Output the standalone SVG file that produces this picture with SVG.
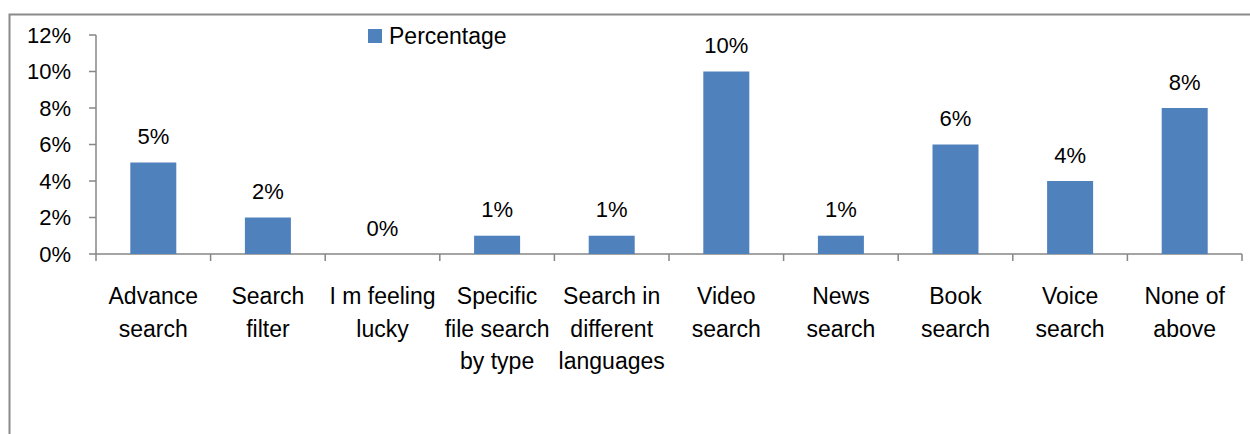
<svg xmlns="http://www.w3.org/2000/svg" width="1250" height="434" viewBox="0 0 1250 434">
<style>
text{font-family:"Liberation Sans",Arial,sans-serif;font-size:23px;fill:#000}
.n{font-size:22px}
.c{text-anchor:middle}
.r{text-anchor:end}
.bar{fill:#4F81BD}
.ax{stroke:#868686;stroke-width:1.5;fill:none}
</style>
<rect width="1250" height="434" fill="#fff"/>
<path d="M9.5,434 V14.5 H1250" fill="none" stroke="#8a8a8a" stroke-width="2"/>
<g id="axes">
<path class="ax" d="M96,35 V254 H1242"/>
<path class="ax" d="M89,35 H96 M89,71.5 H96 M89,108 H96 M89,144.5 H96 M89,181 H96 M89,217.5 H96 M89,254 H96"/>
<path class="ax" d="M96,254 V261 M210.6,254 V261 M325.2,254 V261 M439.8,254 V261 M554.4,254 V261 M669,254 V261 M783.6,254 V261 M898.2,254 V261 M1012.8,254 V261 M1127.4,254 V261 M1242,254 V261"/>
<text class="r n" x="71" y="43">12%</text>
<text class="r n" x="71" y="79">10%</text>
<text class="r n" x="71" y="116">8%</text>
<text class="r n" x="71" y="152">6%</text>
<text class="r n" x="71" y="189">4%</text>
<text class="r n" x="71" y="225">2%</text>
<text class="r n" x="71" y="262">0%</text>
</g>
<g id="legend">
<rect class="bar" x="368" y="29" width="14" height="14"/>
<text x="389" y="44">Percentage</text>
</g>
<g id="bars">
<rect class="bar" x="130.3" y="162.5" width="46" height="91.5"/>
<rect class="bar" x="244.9" y="217.5" width="46" height="36.5"/>
<rect class="bar" x="474.1" y="235.7" width="46" height="18.3"/>
<rect class="bar" x="588.7" y="235.7" width="46" height="18.3"/>
<rect class="bar" x="703.3" y="71.5" width="46" height="182.5"/>
<rect class="bar" x="817.9" y="235.7" width="46" height="18.3"/>
<rect class="bar" x="932.5" y="144.5" width="46" height="109.5"/>
<rect class="bar" x="1047.1" y="181" width="46" height="73"/>
<rect class="bar" x="1161.7" y="108" width="46" height="146"/>
</g>
<g id="values">
<text class="c n" x="153.3" y="144">5%</text>
<text class="c n" x="267.9" y="199">2%</text>
<text class="c n" x="382.5" y="236">0%</text>
<text class="c n" x="497.1" y="217">1%</text>
<text class="c n" x="611.7" y="217">1%</text>
<text class="c n" x="726.3" y="53">10%</text>
<text class="c n" x="840.9" y="217">1%</text>
<text class="c n" x="955.5" y="126">6%</text>
<text class="c n" x="1070.1" y="163">4%</text>
<text class="c n" x="1184.7" y="90">8%</text>
</g>
<g id="categories">
<text class="c" x="153.3" y="304">Advance<tspan x="153.3" dy="32.5">search</tspan></text>
<text class="c" x="267.9" y="304">Search<tspan x="267.9" dy="32.5">filter</tspan></text>
<text class="c" x="382.5" y="304">I m feeling<tspan x="382.5" dy="32.5">lucky</tspan></text>
<text class="c" x="497.1" y="304">Specific<tspan x="497.1" dy="32.5">file search</tspan><tspan x="497.1" dy="32.5">by type</tspan></text>
<text class="c" x="611.7" y="304">Search in<tspan x="611.7" dy="32.5">different</tspan><tspan x="611.7" dy="32.5">languages</tspan></text>
<text class="c" x="726.3" y="304">Video<tspan x="726.3" dy="32.5">search</tspan></text>
<text class="c" x="840.9" y="304">News<tspan x="840.9" dy="32.5">search</tspan></text>
<text class="c" x="955.5" y="304">Book<tspan x="955.5" dy="32.5">search</tspan></text>
<text class="c" x="1070.1" y="304">Voice<tspan x="1070.1" dy="32.5">search</tspan></text>
<text class="c" x="1184.7" y="304">None of<tspan x="1184.7" dy="32.5">above</tspan></text>
</g>
</svg>
